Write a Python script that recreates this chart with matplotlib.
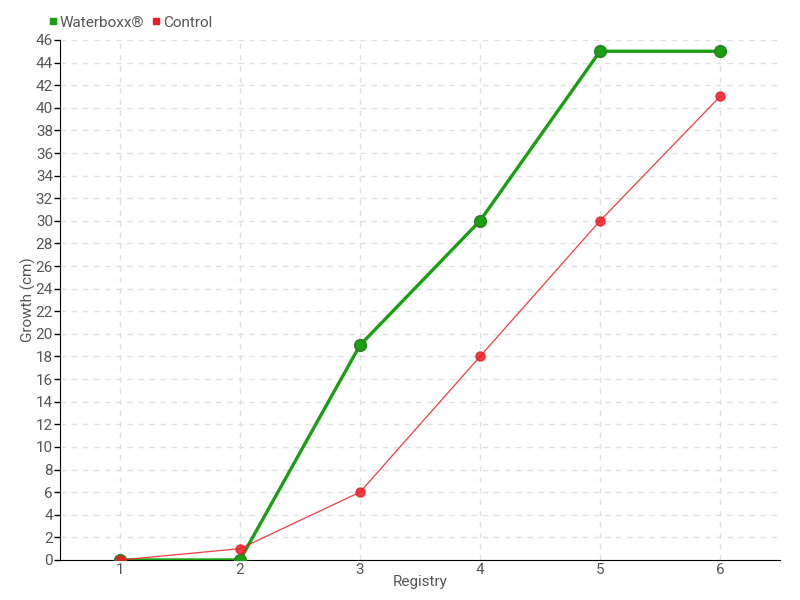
import numpy as np
import matplotlib.pyplot as plt

registry = [1, 2, 3, 4, 5, 6]
waterboxx = [0, 0, 19, 30, 45, 45]
control = [0, 1, 6, 18, 30, 41]

plt.rcParams['font.family'] = ['Roboto', 'DejaVu Sans']

fig = plt.figure(figsize=(8, 6), dpi=100)
ax = fig.add_axes([0.075, 0.0667, 0.9, 0.8667])

green = '#1a9e12'
red = '#ee1c25'

ax.plot(registry, waterboxx, color=green, lw=2.4, marker='o', ms=8.5,
        markeredgecolor='#2d7d2a', label='Waterboxx®', zorder=3)
ax.plot(registry, control, color=red, lw=0.9, alpha=0.85, marker='o', ms=6.5,
        markeredgecolor=red, label='Control', zorder=4)

ax.set_xlim(0.5, 6.5)
ax.set_ylim(0, 46)
ax.set_xticks(registry)
ax.set_yticks(np.arange(0, 47, 2))
ax.grid(True, ls=(0, (4, 4)), color='#e0e0e0', lw=1)
ax.set_axisbelow(True)
for s in ['top', 'right']:
    ax.spines[s].set_visible(False)
ax.tick_params(axis='both', labelsize=11, labelcolor='#555555', length=4, width=1)
ax.tick_params(axis='x', length=0, pad=2)
ax.tick_params(axis='y', pad=1)
ax.set_xlabel('Registry', fontsize=11, color='#555555', labelpad=-1)
ax.set_ylabel('Growth (cm)', fontsize=11, color='#555555')
ax.yaxis.set_label_coords(-0.033, 0.5)

leg = ax.legend(loc='lower left', bbox_to_anchor=(-0.015, 1.02), ncol=2, frameon=False,
                fontsize=11, handlelength=0.5, handletextpad=0.2, columnspacing=0.5,
                borderpad=0, borderaxespad=0)
for h, c in zip(leg.legend_handles, [green, red]):
    h.set_linestyle('')
    h.set_marker('s')
    h.set_markersize(4.5)
    h.set_markerfacecolor(c)
    h.set_markeredgecolor(c)
    h.set_alpha(1)
for t in leg.get_texts():
    t.set_color('#555555')

fig.savefig('out.png', dpi=100)
